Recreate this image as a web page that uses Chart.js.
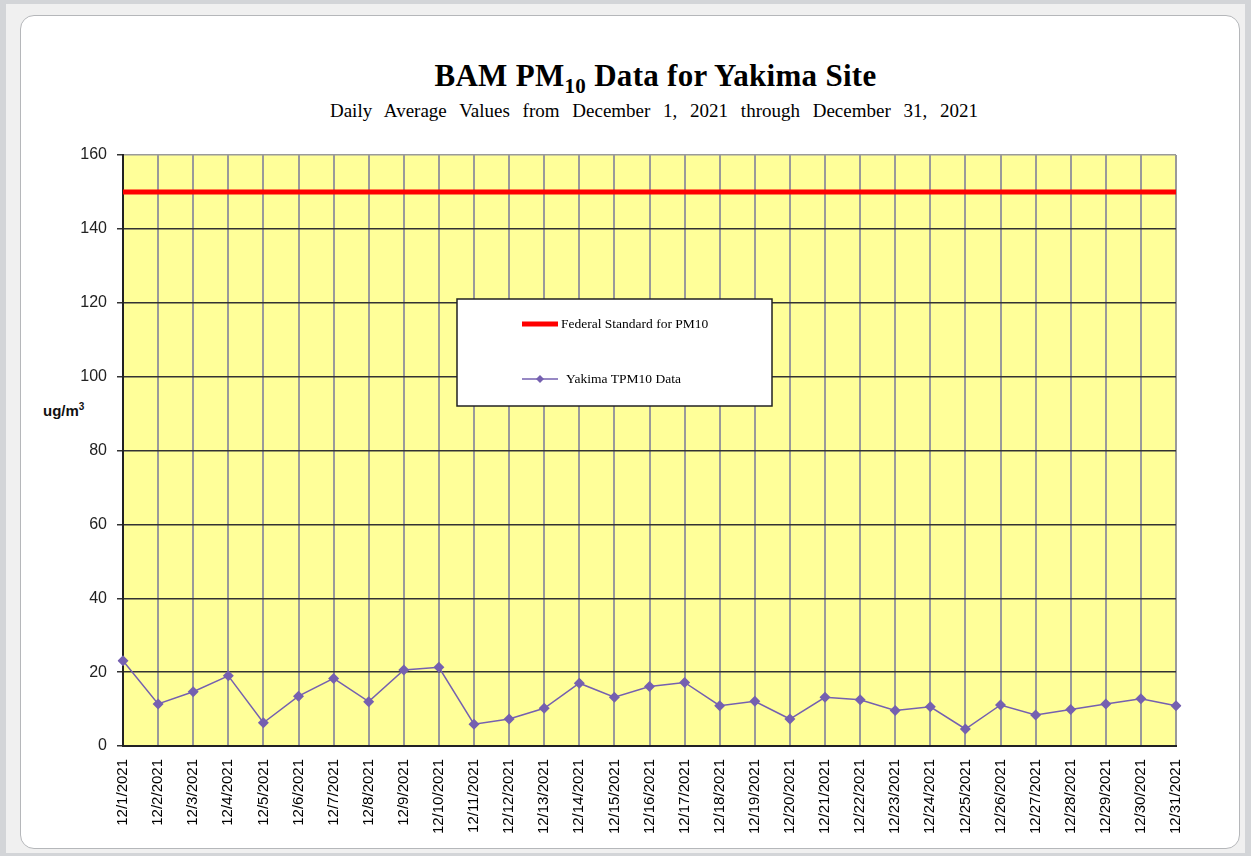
<!DOCTYPE html>
<html>
<head>
<meta charset="utf-8">
<script src="https://cdn.jsdelivr.net/npm/chart.js@4.4.1/dist/chart.umd.min.js"></script>
<style>
  html, body { margin: 0; padding: 0; }
  body { width: 1251px; height: 856px; background: #d3d5d8; position: relative; overflow: hidden; }
  #frame { position: absolute; left: 6px; top: 4px; width: 1239px; height: 849px; background: #f0f0f0; }
  #panel { position: absolute; left: 20px; top: 15px; width: 1218px; height: 832px; background: #fff;
           border: 1.5px solid #b5b7ba; border-radius: 14px; }
  #title { position: absolute; left: 0; width: 1311px; top: 58px; text-align: center;
           font: bold 31px "Liberation Serif", "Times New Roman", serif; color: #000; letter-spacing: 0.3px; }
  #title sub { font-size: 21px; vertical-align: -7px; line-height: 0; }
  #subtitle { position: absolute; left: 0; width: 1308px; top: 100px; text-align: center;
              font: 19px "Liberation Serif", "Times New Roman", serif; word-spacing: 8px; color: #000; }
  #ylabel { position: absolute; left: 43px; top: 402px; font: bold 15px "Liberation Sans", Arial, sans-serif; color: #111; }
  #ylabel sup { font-size: 10px; vertical-align: 6px; line-height: 0; }
  #chart { position: absolute; left: 0; top: 0; }
</style>
</head>
<body>
<div id="frame"></div>
<div id="panel"></div>
<div id="title">BAM PM<sub>10</sub> Data for Yakima Site</div>
<div id="subtitle">Daily Average Values from December 1, 2021 through December 31, 2021</div>
<div id="ylabel">ug/m<sup>3</sup></div>
<canvas id="chart" width="1251" height="856"></canvas>
<script>
const dayLabels = [
    "12/1/2021", "12/2/2021", "12/3/2021", "12/4/2021", "12/5/2021", "12/6/2021", "12/7/2021",
    "12/8/2021", "12/9/2021", "12/10/2021", "12/11/2021", "12/12/2021", "12/13/2021", "12/14/2021",
    "12/15/2021", "12/16/2021", "12/17/2021", "12/18/2021", "12/19/2021", "12/20/2021", "12/21/2021",
    "12/22/2021", "12/23/2021", "12/24/2021", "12/25/2021", "12/26/2021", "12/27/2021", "12/28/2021",
    "12/29/2021", "12/30/2021", "12/31/2021"
];
const standardValues = Array(31).fill(150);
const yakimaValues = [
    23.1, 11.4, 14.7, 19.0, 6.3, 13.5, 18.3, 12.0, 20.6, 21.3, 5.9,
    7.3, 10.2, 17.0, 13.2, 16.1, 17.2, 10.9, 12.1, 7.3, 13.2, 12.5,
    9.6, 10.6, 4.6, 11.1, 8.4, 9.9, 11.4, 12.8, 10.9
];
const yTicks = [0, 20, 40, 60, 80, 100, 120, 140, 160];

const purple = "#7560b0";

// yellow plot background + boxed legend inside the plot
const plotDecor = {
    id: "plotDecor",
    beforeDraw(chart) {
        const { ctx, chartArea: a } = chart;
        ctx.save();
        ctx.fillStyle = "#ffff99";
        ctx.fillRect(a.left, a.top, a.right - a.left, a.bottom - a.top);
        ctx.restore();
    },
    afterDraw(chart) {
        const ctx = chart.ctx;
        const box = { x: 457, y: 299, w: 315, h: 107 };
        ctx.save();
        ctx.fillStyle = "#fff";
        ctx.fillRect(box.x, box.y, box.w, box.h);
        ctx.strokeStyle = "#222";
        ctx.lineWidth = 1.5;
        ctx.strokeRect(box.x, box.y, box.w, box.h);
        ctx.font = '13.5px "Liberation Serif", serif';
        ctx.textBaseline = "middle";
        const rows = [324, 379];
        chart.data.datasets.forEach((ds, i) => {
            const y = rows[i];
            ctx.strokeStyle = ds.borderColor;
            ctx.lineWidth = ds.borderWidth;
            ctx.beginPath();
            ctx.moveTo(522, y);
            ctx.lineTo(558, y);
            ctx.stroke();
            if (ds.pointRadius > 0) {
                ctx.fillStyle = ds.pointBackgroundColor;
                ctx.beginPath();
                ctx.moveTo(540, y - 4);
                ctx.lineTo(544, y);
                ctx.lineTo(540, y + 4);
                ctx.lineTo(536, y);
                ctx.closePath();
                ctx.fill();
            }
            ctx.fillStyle = "#000";
            ctx.fillText(ds.label, i === 0 ? 561 : 566, y);
        });
        ctx.restore();
    }
};

new Chart(document.getElementById("chart"), {
    type: "line",
    data: {
        labels: dayLabels,
        datasets: [
            {
                label: "Federal Standard for PM10",
                data: standardValues,
                borderColor: "#ff0000",
                borderWidth: 5,
                pointRadius: 0,
                pointBackgroundColor: "#ff0000",
            },
            {
                label: "Yakima TPM10 Data",
                data: yakimaValues,
                borderColor: purple,
                borderWidth: 1.5,
                pointStyle: "rectRot",
                pointRadius: 5.5,
                pointBackgroundColor: purple,
                pointBorderColor: purple,
                pointBorderWidth: 0,
            },
        ],
    },
    options: {
        responsive: false,
        animation: false,
        layout: { padding: { left: 20, right: 75, top: 155, bottom: 0 } },
        plugins: {
            legend: { display: false },
            tooltip: { enabled: false },
        },
        scales: {
            x: {
                offset: false,
                afterFit: s => { s.height = 110; },
                grid: { color: "#9a9a9a", lineWidth: 2, drawTicks: false },
                border: { color: "#222", width: 2 },
                ticks: {
                    autoSkip: false,
                    minRotation: 90,
                    maxRotation: 90,
                    padding: 13,
                    color: "#000",
                    font: { family: "Liberation Sans, Arial, sans-serif", size: 15 },
                },
            },
            y: {
                min: 0,
                max: 160,
                afterFit: s => { s.width = 103; },
                afterBuildTicks: s => { s.ticks = yTicks.map(v => ({ value: v })); },
                grid: {
                    color: c => (c.tick && c.tick.value === 160 ? "#9a9a9a" : "#333"),
                    lineWidth: 1.5,
                    tickColor: "#333",
                    tickLength: 6,
                },
                border: { color: "#222", width: 2 },
                ticks: {
                    padding: 10,
                    color: "#222",
                    font: { family: "Liberation Sans, Arial, sans-serif", size: 16 },
                },
            },
        },
    },
    plugins: [plotDecor],
});
</script>
</body>
</html>
